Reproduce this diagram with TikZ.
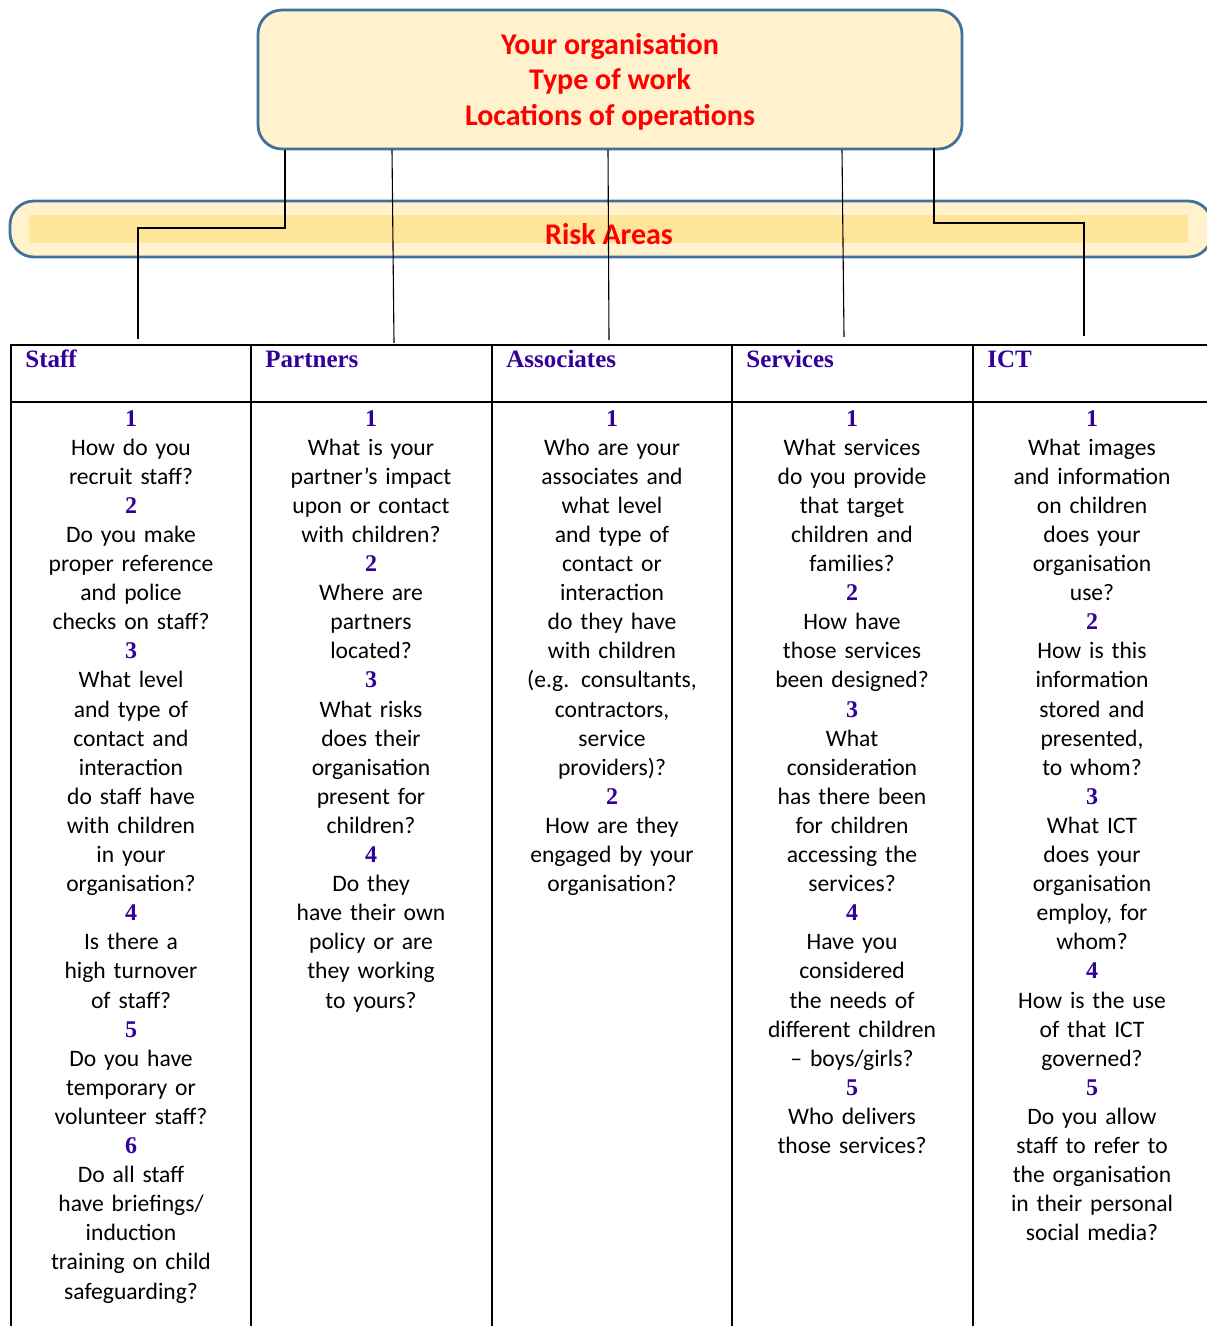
\documentclass[tikz,border=0pt]{standalone}
\usepackage{fontspec}
\setmainfont{Carlito}
\newfontfamily\serifhead{Liberation Serif}
\usepackage{tikz}
\usetikzlibrary{calc}
\definecolor{boxfill}{RGB}{255,242,204}
\definecolor{boxline}{RGB}{65,113,156}
\definecolor{bandfill}{RGB}{255,229,153}
\definecolor{headblue}{RGB}{51,0,153}
\newcommand{\qnum}[1]{{\serifhead\bfseries\fontsize{12}{14.55}\selectfont\color{headblue}#1}}

\tikzset{
  topbox/.style={draw=boxline, line width=1.4pt, fill=boxfill, rounded corners=12pt},
  titletext/.style={text=red, font=\fontsize{15}{17.75}\selectfont\bfseries, align=center},
  link/.style={draw=black, line width=0.55pt},
  grid/.style={line width=1.3pt},
  colhead/.style={anchor=base west, inner sep=0pt, text=headblue, font=\serifhead\bfseries\fontsize{12.5}{14}\selectfont},
  question/.style={anchor=base, text width=118pt, align=center, inner sep=0pt, font=\fontsize{11.8}{14.55}\selectfont}
}

\begin{document}
\begin{tikzpicture}[x=0.5pt,y=-0.5pt]
\useasboundingbox (0,0) rectangle (1206,1326);

\node[topbox, minimum width=352pt, minimum height=69.5pt] (org) at (610,79.5) {};
\node[titletext] (orgtext) at (610,81.5) {Your organisation\\Type of work\\Locations of operations};

\node[topbox, minimum width=601pt, minimum height=28pt] (risk) at (611,229) {};
\fill[bandfill] (29,215) rectangle (1188,243);
\node[titletext] (risktext) at (609,234) {Risk Areas};

\coordinate (o1) at (285,150);
\coordinate (o2) at (392,150);
\coordinate (o3) at (608,150);
\coordinate (o4) at (842,150);
\coordinate (o5) at (934,148);
\coordinate (c1) at (138,339);
\coordinate (c2) at (394,343);
\coordinate (c3) at (609,340);
\coordinate (c4) at (844,337);
\coordinate (c5) at (1084,336);
\draw[link] (o1) -- (285,228) -| (c1);
\draw[link] (o2) -- (c2);
\draw[link] (o3) -- (c3);
\draw[link] (o4) -- (c4);
\draw[link] (o5) -- (934,223) -| (c5);

\draw[grid] (10,345) -- (1214,345);
\draw[grid] (10,402) -- (1214,402);
\foreach \x in {11,251,492,732,973}
  \draw[grid] (\x,345) -- (\x,1332);

\node[colhead] (staff) at (25,367) {Staff};
\node[colhead] (partners) at (265,367) {Partners};
\node[colhead] (associates) at (506,367) {Associates};
\node[colhead] (services) at (746,367) {Services};
\node[colhead] (ict) at (987,367) {ICT};

\node[question] (staffq) at (131,426) {\qnum{1}\\How do you\\recruit staff?\\\qnum{2}\\Do you make\\proper reference\\and police\\checks on staff?\\\qnum{3}\\What level\\and type of\\contact and\\interaction\\do staff have\\with children\\in your\\organisation?\\\qnum{4}\\Is there a\\high turnover\\of staff?\\\qnum{5}\\Do you have\\temporary or\\volunteer staff?\\\qnum{6}\\Do all staff\\have briefings/\\induction\\training on child\\safeguarding?};
\node[question] (partnersq) at (371,426) {\qnum{1}\\What is your\\partner’s impact\\upon or contact\\with children?\\\qnum{2}\\Where are\\partners\\located?\\\qnum{3}\\What risks\\does their\\organisation\\present for\\children?\\\qnum{4}\\Do they\\have their own\\policy or are\\they working\\to yours?};
\node[question] (associatesq) at (612,426) {\qnum{1}\\Who are your\\associates and\\what level\\and type of\\contact or\\interaction\\do they have\\with children\\(e.g. consultants,\\contractors,\\service\\providers)?\\\qnum{2}\\How are they\\engaged by your\\organisation?};
\node[question] (servicesq) at (852,426) {\qnum{1}\\What services\\do you provide\\that target\\children and\\families?\\\qnum{2}\\How have\\those services\\been designed?\\\qnum{3}\\What\\consideration\\has there been\\for children\\accessing the\\services?\\\qnum{4}\\Have you\\considered\\the needs of\\different children\\– boys/girls?\\\qnum{5}\\Who delivers\\those services?};
\node[question] (ictq) at (1092,426) {\qnum{1}\\What images\\and information\\on children\\does your\\organisation\\use?\\\qnum{2}\\How is this\\information\\stored and\\presented,\\to whom?\\\qnum{3}\\What ICT\\does your\\organisation\\employ, for\\whom?\\\qnum{4}\\How is the use\\of that ICT\\governed?\\\qnum{5}\\Do you allow\\staff to refer to\\the organisation\\in their personal\\social media?};
\end{tikzpicture}
\end{document}
